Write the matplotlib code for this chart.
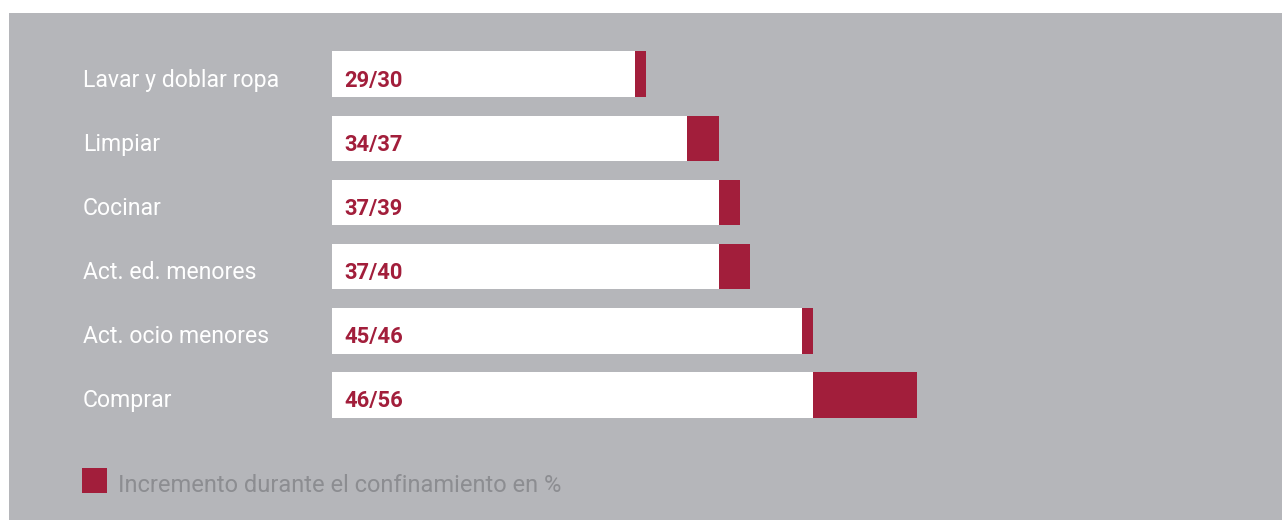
import matplotlib.pyplot as plt
from matplotlib.patches import Rectangle

# data
actividades = ['Lavar y doblar ropa', 'Limpiar', 'Cocinar', 'Act. ed. menores',
               'Act. ocio menores', 'Comprar']
antes = [29, 34, 37, 37, 45, 46]
durante = [30, 37, 39, 40, 46, 56]
leyenda = 'Incremento durante el confinamiento en %'

gris = '#b5b6ba'
rojo = '#a21e3b'

W, H = 1282, 520
fig = plt.figure(figsize=(W / 100, H / 100), dpi=100)
fig.patch.set_facecolor('white')

ax = fig.add_axes([0, 0, 1, 1])
ax.set_facecolor('none')
# gray panel
ax.add_patch(Rectangle((9 / W, 0), 1 - 9 / W, (H - 13) / H,
                       transform=ax.transAxes, facecolor=gris,
                       edgecolor='none', zorder=0, clip_on=False))
px = 10.45      # pixels per unit
x0 = 332        # bar origin in pixels
row = 64.16
y0 = 74.2
ax.set_xlim(-x0 / px, (W - x0) / px)
ax.set_ylim((H - y0) / row, -y0 / row)
ax.axis('off')

ys = list(range(len(actividades)))
inc = [d - a for a, d in zip(antes, durante)]
ax.barh(ys, antes, height=0.71, color='white', edgecolor='none', zorder=2)
ax.barh(ys, inc, left=antes, height=0.71, color=rojo, edgecolor='none', zorder=2)

lab_x = (83 - x0) / px
off = 12.5 / row
for y, nombre, a, d in zip(ys, actividades, antes, durante):
    ax.text(lab_x, y + off, nombre, color='white', fontsize=16.6, family='Roboto',
            va='baseline', ha='left', zorder=3)
    ax.text(12 / px, y + off, f'{a}/{d}', color=rojo, fontsize=15.8,
            family='Roboto', fontweight='bold', va='baseline', ha='left',
            zorder=3)

# legend
ax.add_patch(Rectangle(((82 - x0) / px, (468 - y0) / row), 25 / px, 25 / row,
                       facecolor=rojo, edgecolor='none', zorder=2))
ax.text((118 - x0) / px, (492 - y0) / row, leyenda, color='#8c8d91',
        fontsize=17, family='Roboto', va='baseline', ha='left', zorder=3)

fig.savefig('out.png', dpi=100)
